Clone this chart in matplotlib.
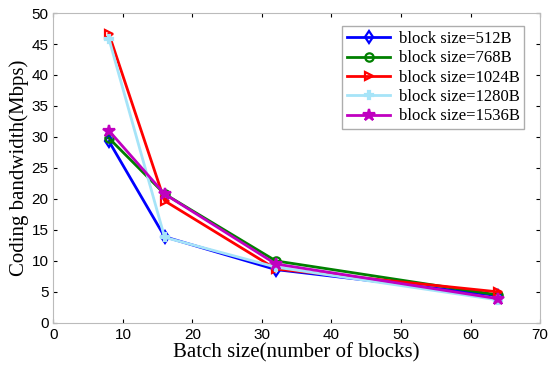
import matplotlib
matplotlib.use("Agg")
import matplotlib.pyplot as plt

plt.rcParams['font.family'] = ['Liberation Serif', 'DejaVu Serif']

batch = [8, 16, 32, 64]
bw_512 = [29.3, 13.9, 8.6, 4.4]
bw_768 = [29.8, 20.8, 10.0, 4.5]
bw_1024 = [46.6, 19.7, 8.7, 5.0]
bw_1280 = [45.8, 13.8, 9.0, 3.7]
bw_1536 = [31.0, 20.8, 9.5, 3.9]

series = [
    (bw_512, 'block size=512B', 'blue', 'd'),
    (bw_768, 'block size=768B', 'green', 'o'),
    (bw_1024, 'block size=1024B', 'red', '>'),
    (bw_1280, 'block size=1280B', '#a6e4f8', 'P'),
    (bw_1536, 'block size=1536B', '#c000c0', '*'),
]

fig = plt.figure(figsize=(5.5, 3.72), dpi=100)
ax = fig.add_axes([0.097, 0.132, 0.885, 0.833])

for vals, label, color, marker in series:
    ms = 9 if marker == '*' else 6
    ax.plot(batch, vals, color=color, marker=marker, label=label, linewidth=2,
            markersize=ms, markerfacecolor='none' if marker not in '*P' else color,
            markeredgewidth=1.6)

ax.set_xlim(0, 70)
ax.set_ylim(0, 50)
ax.set_xticks(range(0, 71, 10))
ax.set_yticks(range(0, 51, 5))
ax.tick_params(direction='in', top=True, right=True, labelsize=11, length=3)
for lbl in ax.get_xticklabels() + ax.get_yticklabels():
    lbl.set_family(['Liberation Sans', 'DejaVu Sans'])
for s in ax.spines.values():
    s.set_color('#bbbbbb')
ax.set_xlabel('Batch size(number of blocks)', fontsize=15, labelpad=1)
ax.set_ylabel('Coding bandwidth(Mbps)', fontsize=15, labelpad=2)

leg = ax.legend(loc='upper right', fontsize=12, frameon=True, fancybox=False,
                edgecolor='#999999', handlelength=2.6, borderpad=0.3, labelspacing=0.2,
                handletextpad=0.5, bbox_to_anchor=(0.985, 0.985))

fig.savefig('out.png', dpi=100)
